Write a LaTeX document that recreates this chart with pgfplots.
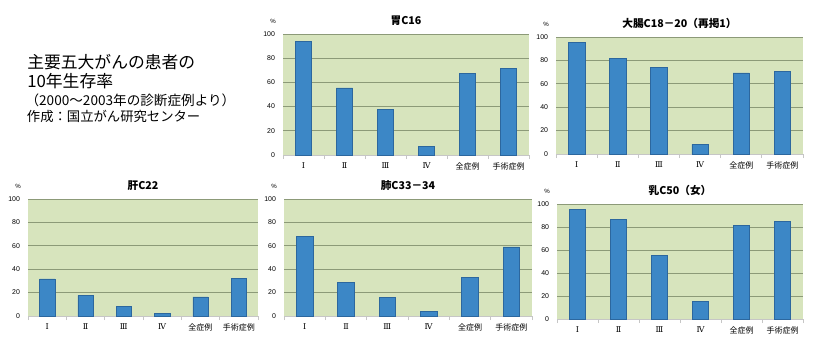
\documentclass[border=0pt]{standalone}
\usepackage{fontspec}
\setmainfont{Liberation Sans}
\newfontfamily\jp{Noto Sans CJK JP}
\newfontfamily\rn{DejaVu Serif}
\usepackage{pgfplots}
\pgfplotsset{compat=1.18}
\definecolor{bg}{HTML}{D7E4BD}
\definecolor{gridc}{HTML}{8C9A78}
\definecolor{barc}{HTML}{3C87C6}
\definecolor{bare}{HTML}{2C679E}
\pgfplotsset{
  panel/.style={
    scale only axis,
    ybar, bar width=0.4,
    ymin=0, ymax=100, xmin=-0.5, xmax=5.5,
    enlargelimits=false,
    xtick={0,...,5},
    xticklabels={{\rn Ⅰ},{\rn Ⅱ},{\rn Ⅲ},{\rn Ⅳ},{\jp 全症例},{\jp 手術症例}},
    minor xtick={-0.5,0.5,...,5.5},
    ytick={0,20,...,100},
    axis background/.style={fill=bg},
    ymajorgrids, grid style={gridc, line width=0.7pt},
    axis x line*=bottom, axis y line*=left,
    y axis line style={draw=none},
    x axis line style={draw=gray!45, line width=0.6pt},
    major tick length=0pt, minor tick length=3pt, tick align=outside,
    minor tick style={gray!45, line width=0.6pt},
    /pgf/number format/assume math mode=true,
    yticklabel style={font=\fontsize{5.2}{6}\selectfont, xshift=-2.5pt},
    xticklabel style={font=\fontsize{6}{7}\selectfont, yshift=-2pt},
    clip=false,
  },
  bars/.style={fill=barc, draw=bare, line width=0.4pt},
}
\newcommand{\paneltitle}[1]{%
  \node[font={\jp\bfseries\fontsize{8}{8}\selectfont}, yshift=10pt] at (rel axis cs:0.5,1) {#1};
  \node[font=\fontsize{4.6}{5}\selectfont, xshift=-7.5pt, yshift=9.5pt] at (rel axis cs:0,1) {\%};
}
\begin{document}
\begin{tikzpicture}
\fill[white] (0,0) rectangle (621pt,266.25pt);
\useasboundingbox (0,0) rectangle (621pt,266.25pt);

\node[anchor=west, font={\jp\fontsize{12.6}{13}\selectfont}, inner sep=0pt] at (20.25pt,219.75pt) {主要五大がんの患者の};
\node[anchor=west, font={\jp\fontsize{12.6}{13}\selectfont}, inner sep=0pt] at (20.25pt,205.5pt) {10年生存率};
\node[anchor=west, font={\jp\fontsize{10.2}{11}\selectfont}, inner sep=0pt] at (19pt,191.25pt) {（2000～2003年の診断症例より）};
\node[anchor=west, font={\jp\fontsize{10}{11}\selectfont}, inner sep=0pt] at (20pt,179.25pt) {作成：国立がん研究センター};

% 胃
\begin{axis}[panel, at={(212.25pt,150pt)}, anchor=south west, width=184.5pt, height=90.75pt]
\addplot[bars] coordinates {(0,94) (1,55.5) (2,37.8) (3,6.9) (4,67.4) (5,71.5)};
\paneltitle{胃C16}
\end{axis}

% 大腸
\begin{axis}[panel, at={(417pt,150.75pt)}, anchor=south west, width=185.25pt, height=87.75pt]
\addplot[bars] coordinates {(0,95.2) (1,81.5) (2,74.1) (3,8.2) (4,69.3) (5,70.5)};
\paneltitle{大腸C18－20（再掲1）}
\end{axis}

% 肝
\begin{axis}[panel, at={(21pt,29.25pt)}, anchor=south west, width=172.5pt, height=87.75pt]
\addplot[bars] coordinates {(0,31.7) (1,17.7) (2,8.3) (3,2.3) (4,16.3) (5,32)};
\paneltitle{肝C22}
\end{axis}

% 肺
\begin{axis}[panel, at={(213pt,29.25pt)}, anchor=south west, width=186pt, height=87.75pt]
\addplot[bars] coordinates {(0,68.2) (1,28.7) (2,16) (3,3.7) (4,32.7) (5,59)};
\paneltitle{肺C33－34}
\end{axis}

% 乳
\begin{axis}[panel, at={(417.75pt,27pt)}, anchor=south west, width=184.5pt, height=86.25pt]
\addplot[bars] coordinates {(0,95.4) (1,86.7) (2,55.4) (3,15.1) (4,81.7) (5,84.6)};
\paneltitle{乳C50（女）}
\end{axis}
\end{tikzpicture}
\end{document}
